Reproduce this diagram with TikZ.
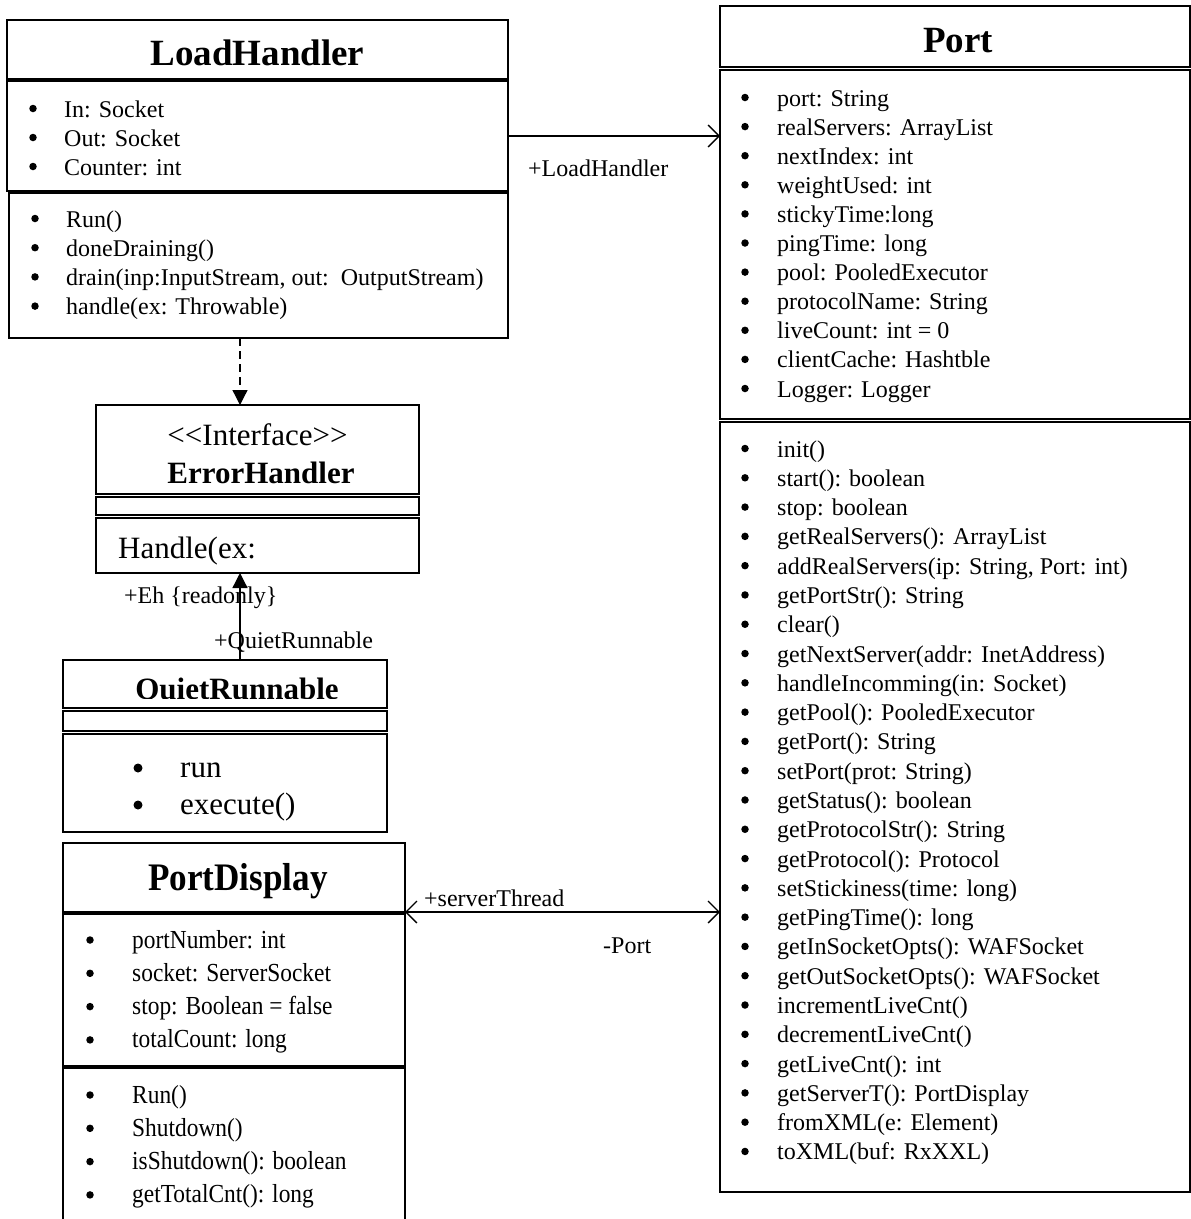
\documentclass[tikz,border=0pt]{standalone}
\usepackage{fontspec}
\setmainfont{Liberation Serif}
\newfontfamily\pdfont{Liberation Serif}[FakeStretch=0.9]
\usetikzlibrary{arrows.meta}
\begin{document}
\begin{tikzpicture}[x=1pt,y=-1pt,
  comp/.style={draw, line width=1.6pt, anchor=north west, inner sep=0pt, outer sep=0pt},
  item/.style={anchor=base west, inner sep=0pt, font=\fontsize{24}{29}\selectfont},
  bul/.style={circle, fill=black, inner sep=0pt, minimum size=7.5pt},
  big/.style={anchor=base west, inner sep=0pt, font=\fontsize{31}{37}\selectfont},
  bigbul/.style={circle, fill=black, inner sep=0pt, minimum size=9pt},
  pditem/.style={anchor=base west, inner sep=0pt, font=\pdfont\fontsize{26}{31}\selectfont},
  title/.style={anchor=base, inner sep=0pt, font=\bfseries\fontsize{37}{44}\selectfont},
  stitle/.style={anchor=base, inner sep=0pt, font=\fontsize{31}{37}\selectfont},
  lbl/.style={anchor=base west, inner sep=0pt, font=\fontsize{24}{29}\selectfont},
  conn/.style={line width=1.3pt},
  barb/.tip={Straight Barb[length=11pt,width=22pt,line width=1.3pt]},
  openhead/.style={-barb},
  fillhead/.style={-{Triangle[length=15pt,width=15pt]}}
]
\useasboundingbox (0,0) rectangle (1191,1219);
\fill[white] (0,0) rectangle (1191,1219);

% ---------- LoadHandler ----------
\node[comp, minimum width=501pt, minimum height=59pt] (LHt) at (7,20) {};
\node[comp, minimum width=501pt, minimum height=110pt] (LHa) at (7,81) {};
\node[comp, minimum width=499pt, minimum height=145pt] (LHm) at (9,193) {};
\node[title] (LHtitle) at (257.5,65) {LoadHandler};
\foreach \t [count=\i from 0] in {In: Socket, Out: Socket, Counter: int}{
  \node[bul] (lhab\i) at (33,{108.5+29*\i}) {};
  \node[item] (lha\i) at (64,{117+29*\i}) {\t};
}
\foreach \t [count=\i from 0] in {Run(), doneDraining(), {drain(inp:InputStream, out:\ \ OutputStream)}, handle(ex: Throwable)}{
  \node[bul] (lhmb\i) at (35,{218.5+29.2*\i}) {};
  \node[item] (lhm\i) at (66,{227+29.2*\i}) {\t};
}

% ---------- Port ----------
\node[comp, minimum width=470pt, minimum height=61pt] (Pt) at (720,6) {};
\node[comp, minimum width=470pt, minimum height=349pt] (Pa) at (720,70) {};
\node[comp, minimum width=470pt, minimum height=770pt] (Pm) at (720,422) {};
\node[title] (Ptitle) at (958,52) {Port};
\foreach \t [count=\i from 0] in {port: String, realServers: ArrayList, nextIndex: int, weightUsed: int, stickyTime:long, pingTime: long, pool: PooledExecutor, protocolName: String, liveCount: int = 0, clientCache: Hashtble, Logger: Logger}{
  \node[bul] (pab\i) at (745,{97.5+29.1*\i}) {};
  \node[item] (pa\i) at (777,{106+29.1*\i}) {\t};
}
\foreach \t [count=\i from 0] in {init(), start(): boolean, stop: boolean, getRealServers(): ArrayList, {addRealServers(ip: String, Port: int)}, getPortStr(): String, clear(), getNextServer(addr: InetAddress), handleIncomming(in: Socket), getPool(): PooledExecutor, getPort(): String, setPort(prot: String), getStatus(): boolean, getProtocolStr(): String, getProtocol(): Protocol, setStickiness(time: long), getPingTime(): long, getInSocketOpts(): WAFSocket, getOutSocketOpts(): WAFSocket, incrementLiveCnt(), decrementLiveCnt(), getLiveCnt(): int, getServerT(): PortDisplay, fromXML(e: Element), toXML(buf: RxXXL)}{
  \node[bul] (pmb\i) at (745,{448.5+29.29*\i}) {};
  \node[item] (pm\i) at (777,{457+29.29*\i}) {\t};
}

% ---------- ErrorHandler ----------
\node[comp, minimum width=323pt, minimum height=89pt] (EHt) at (96,405) {};
\node[comp, minimum width=323pt, minimum height=18pt] (EHe) at (96,497) {};
\node[comp, minimum width=323pt, minimum height=55pt] (EHm) at (96,518) {};
\node[stitle] (EHster) at (257.5,445) {<\kern0pt<Interface>\kern0pt>};
\node[stitle, font=\bfseries\fontsize{31}{37}\selectfont] (EHtitle) at (261,483) {ErrorHandler};
\node[big] (EHm0) at (118,558) {Handle(ex:};

% ---------- QuietRunnable ----------
\node[comp, minimum width=324pt, minimum height=48pt] (QRt) at (63,660) {};
\node[comp, minimum width=324pt, minimum height=20pt] (QRe) at (63,711) {};
\node[comp, minimum width=324pt, minimum height=98pt] (QRm) at (63,734) {};
\begin{scope}
  \clip (63,660) rectangle (387,698.5);
  \node[stitle, font=\bfseries\fontsize{31}{37}\selectfont] (QRtitle) at (237,699) {QuietRunnable};
\end{scope}
\node[bigbul] (qrb0) at (138,768) {};
\node[big] (qr0) at (180,777) {run};
\node[bigbul] (qrb1) at (138,805) {};
\node[big] (qr1) at (180,814) {execute()};

% ---------- PortDisplay ----------
\node[comp, minimum width=342pt, minimum height=69pt] (PDt) at (63,843) {};
\node[comp, minimum width=342pt, minimum height=152pt] (PDa) at (63,914) {};
\node[comp, minimum width=342pt, minimum height=160pt] (PDm) at (63,1068) {};
\node[title, font=\pdfont\bfseries\fontsize{39}{46}\selectfont] (PDtitle) at (238,890) {PortDisplay};
\foreach \t [count=\i from 0] in {portNumber: int, socket: ServerSocket, stop: Boolean = false, totalCount: long}{
  \node[bul] (pdab\i) at (90,{940+33.3*\i}) {};
  \node[pditem] (pda\i) at (132,{948+33.3*\i}) {\t};
}
\foreach \t [count=\i from 0] in {Run(), Shutdown(), isShutdown(): boolean, getTotalCnt(): long}{
  \node[bul] (pdmb\i) at (90,{1095+33.3*\i}) {};
  \node[pditem] (pdm\i) at (132,{1103+33.3*\i}) {\t};
}

% ---------- Connectors ----------
\draw[conn, openhead] (LHa.east) -- (LHa.east -| Pa.west);
\node[lbl] (lLH) at (528,176) {+LoadHandler};

\draw[conn, barb-barb] (PDt.south east) -- (PDt.south east -| Pm.west);
\node[lbl] (lST) at (424,906) {+serverThread};
\node[lbl] (lPort) at (603,953) {-Port};

\draw[conn, dashed, dash pattern=on 8pt off 5pt, fillhead] ([xshift=-18.5pt]LHm.south) -- ([xshift=-17.5pt]EHt.north);

\draw[conn, fillhead] ([xshift=15pt]QRt.north) -- ([xshift=-17.5pt]EHm.south);
\node[lbl] (lEh) at (124,603) {+Eh \{readonly\}};
\node[lbl] (lQR) at (214,648) {+QuietRunnable};
\end{tikzpicture}
\end{document}
